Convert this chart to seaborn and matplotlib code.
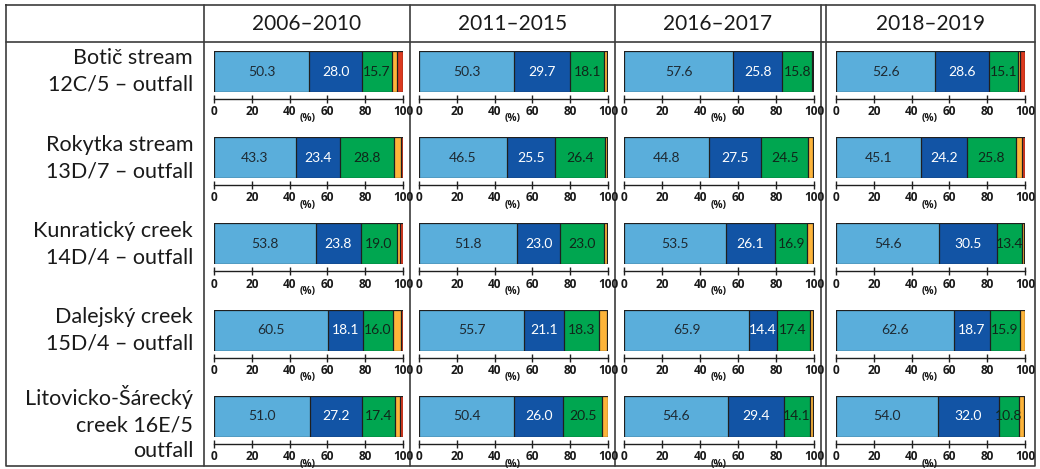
import matplotlib
matplotlib.use("Agg")
import matplotlib.pyplot as plt
import seaborn as sns
import numpy as np

# ---------------- data ----------------
periods = ["2006–2010", "2011–2015", "2016–2017", "2018–2019"]
sites = ["Botič stream\n12C/5 – outfall",
         "Rokytka stream\n13D/7 – outfall",
         "Kunratický creek\n14D/4 – outfall",
         "Dalejský creek\n15D/4 – outfall",
         "Litovicko-Šárecký\ncreek 16E/5\noutfall"]
# rows = sites, columns = periods (values in %)
light_blue = [[50.3, 50.3, 57.6, 52.6],
              [43.3, 46.5, 44.8, 45.1],
              [53.8, 51.8, 53.5, 54.6],
              [60.5, 55.7, 65.9, 62.6],
              [51.0, 50.4, 54.6, 54.0]]
dark_blue = [[28.0, 29.7, 25.8, 28.6],
             [23.4, 25.5, 27.5, 24.2],
             [23.8, 23.0, 26.1, 30.5],
             [18.1, 21.1, 14.4, 18.7],
             [27.2, 26.0, 29.4, 32.0]]
green = [[15.7, 18.1, 15.8, 15.1],
         [28.8, 26.4, 24.5, 25.8],
         [19.0, 23.0, 16.9, 13.4],
         [16.0, 18.3, 17.4, 15.9],
         [17.4, 20.5, 14.1, 10.8]]
yellow = [[2.7, 1.5, 0.3, 1.2],
          [3.5, 1.0, 2.7, 3.5],
          [1.8, 1.8, 3.2, 1.2],
          [4.5, 4.5, 2.0, 2.6],
          [2.6, 3.0, 1.6, 2.8]]
red = [[3.3, 0.4, 0.5, 2.5],
       [1.0, 0.6, 0.5, 1.4],
       [1.6, 0.4, 0.3, 0.3],
       [0.9, 0.4, 0.3, 0.2],
       [1.8, 0.1, 0.3, 0.4]]
ticks = [0, 20, 40, 60, 80, 100]

seg_colors = ["#5aaedb", "#1254a5", "#00a650", "#fdb43a", "#dc3a1f"]
text_colors = ["#1e2a33", "#ffffff", "#10261a"]

# ---------------- style ----------------
sns.set_theme(style="white")
plt.rcParams["font.family"] = ["Lato", "DejaVu Sans"]
BOLD = ["Open Sans", "DejaVu Sans"]

W, H = 1040, 469
fig = plt.figure(figsize=(W / 100, H / 100), dpi=100)

bg = fig.add_axes([0, 0, 1, 1])
bg.set_xlim(0, W)
bg.set_ylim(H, 0)
bg.axis("off")

lc = "#3c3c3c"
lw = 1.2
bg.plot([6, 1035, 1035, 6, 6], [5, 5, 466, 466, 5], color=lc, lw=lw)
bg.plot([6, 1035], [42, 42], color=lc, lw=lw)
for xv in [204, 410, 615, 821, 826]:
    bg.plot([xv, xv], [5, 466], color=lc, lw=lw)

col_x = [(214, 403), (419, 608), (624, 814), (836, 1025)]
col_center = [307, 512.5, 718, 930.5]
for j, p in enumerate(periods):
    bg.text(col_center[j], 24, p, ha="center", va="center", fontsize=15, color="#1a1a1a")

bar_h = 41
row_tops = [51 + 86.25 * i for i in range(5)]
label_centers = [71.5, 158, 244, 330, 423]
for i, s in enumerate(sites):
    bg.text(193, label_centers[i], s, ha="right", va="center", fontsize=15.5,
            color="#1a1a1a", linespacing=1.4)

segments = [light_blue, dark_blue, green, yellow, red]

for i in range(len(sites)):
    for j in range(len(periods)):
        x0, x1 = col_x[j]
        y0 = row_tops[i]
        ax = fig.add_axes([x0 / W, 1 - (y0 + bar_h) / H, (x1 - x0) / W, bar_h / H])
        vals = [seg[i][j] for seg in segments]
        cum = np.cumsum(vals)
        for k in range(len(vals) - 1, -1, -1):
            sns.barplot(x=[cum[k]], y=["v"], orient="h", color=seg_colors[k],
                        saturation=1, width=1, errorbar=None,
                        edgecolor="#1f1f1f", linewidth=0.9, ax=ax)
        starts = np.concatenate([[0], cum[:-1]])
        for k in range(3):
            ax.text(starts[k] + vals[k] / 2, 0, f"{vals[k]:.1f}", ha="center",
                    va="center", fontsize=10, color=text_colors[k])
        ax.set_xlim(0, 100)
        ax.set_ylim(0.5, -0.5)
        ax.set_ylabel("")
        ax.set_xlabel("")
        ax.set_yticks([])
        ax.set_facecolor("none")
        for sp in ["top", "left", "right"]:
            ax.spines[sp].set_visible(False)
        ax.spines["bottom"].set_position(("outward", 5))
        ax.spines["bottom"].set_color("#1f1f1f")
        ax.spines["bottom"].set_linewidth(1.0)
        ax.set_xticks(ticks)
        ax.set_xticklabels([str(t) for t in ticks])
        ax.tick_params(axis="x", direction="inout", length=6, width=1.0,
                       color="#1f1f1f", pad=1.5, bottom=True)
        for lab in ax.get_xticklabels():
            lab.set_fontweight("bold")
            lab.set_family(BOLD)
            lab.set_fontsize(8.6)
            lab.set_color("#1a1a1a")
        bg.text(x0 + (x1 - x0) * 0.497, y0 + bar_h + 27, "(%)", ha="center",
                va="center", fontsize=7.3, fontweight="bold", family=BOLD,
                color="#1a1a1a")

fig.savefig("out.png", dpi=100)
